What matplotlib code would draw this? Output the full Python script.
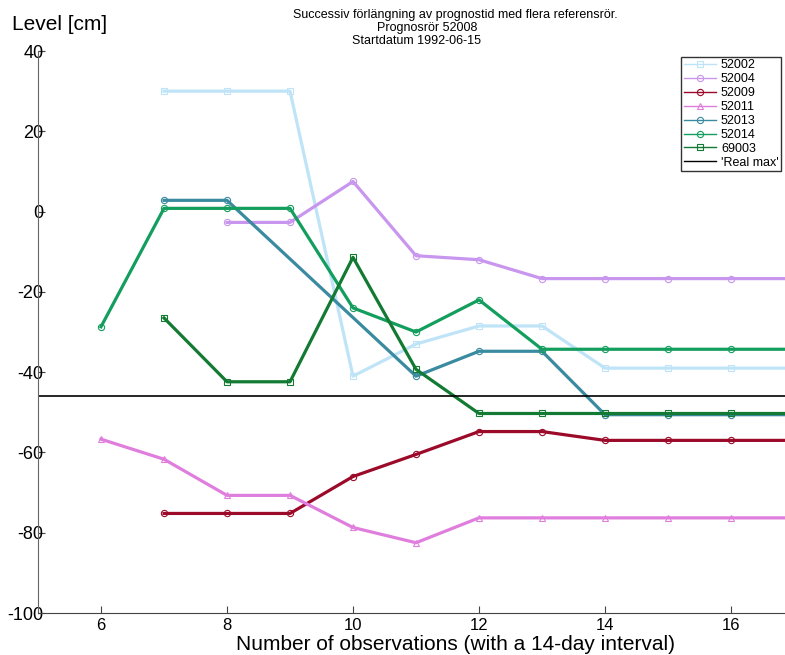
import numpy as np
import matplotlib
matplotlib.use("Agg")
import matplotlib.pyplot as plt

plt.rcParams["font.family"] = ["Liberation Sans", "DejaVu Sans"]
plt.rcParams["axes.unicode_minus"] = False

# Values (x = number of observations)
x_52002 = [7, 8, 9, 10, 11, 12, 13, 14, 15, 16, 17]
y_52002 = [30, 30, 30, -41, -33, -28.5, -28.5, -39, -39, -39, -39]

x_52004 = [8, 9, 10, 11, 12, 13, 14, 15, 16, 17]
y_52004 = [-2.7, -2.7, 7.5, -11, -12, -16.7, -16.7, -16.7, -16.7, -16.7]

x_52009 = [7, 8, 9, 10, 11, 12, 13, 14, 15, 16, 17]
y_52009 = [-75.2, -75.2, -75.2, -66, -60.5, -54.8, -54.8, -57, -57, -57, -57]

x_52011 = [6, 7, 8, 9, 10, 11, 12, 13, 14, 15, 16, 17]
y_52011 = [-56.7, -61.7, -70.7, -70.7, -78.7, -82.5, -76.3, -76.3, -76.3,
           -76.3, -76.3, -76.3]

x_52013 = [7, 8, 11, 12, 13, 14, 15, 16, 17]
y_52013 = [2.8, 2.8, -41, -34.8, -34.8, -50.6, -50.6, -50.6, -50.6]

x_52014 = [6, 7, 8, 9, 10, 11, 12, 13, 14, 15, 16, 17]
y_52014 = [-28.7, 0.8, 0.8, 0.8, -24, -30, -22, -34.3, -34.3, -34.3, -34.3,
           -34.3]

x_69003 = [7, 8, 9, 10, 11, 12, 13, 14, 15, 16, 17]
y_69003 = [-26.5, -42.4, -42.4, -11.4, -39.3, -50.3, -50.3, -50.3, -50.3,
           -50.3, -50.3]

real_max = -46

series = [
    ("52002", x_52002, y_52002, "#bfe4f8", "s"),
    ("52004", x_52004, y_52004, "#c896ee", "o"),
    ("52009", x_52009, y_52009, "#9c0a2a", "o"),
    ("52011", x_52011, y_52011, "#e07ede", "^"),
    ("52013", x_52013, y_52013, "#3a8aa0", "o"),
    ("52014", x_52014, y_52014, "#139e5e", "o"),
    ("69003", x_69003, y_69003, "#127a32", "s"),
]

fig = plt.figure(figsize=(7.85, 6.55), dpi=100)
ax = fig.add_axes([38 / 785, 42 / 655, 756 / 785, 562 / 655])

for name, xs, ys, col, mk in series:
    ax.plot(xs, ys, color=col, lw=2.3, marker=mk, ms=4.5, mfc="none",
            mec=col, mew=0.8, label=name)
ax.axhline(real_max, color="black", lw=1.2, label="'Real max'")

ax.set_xlim(5, 17)
ax.set_ylim(-100, 40)
ax.set_xticks([6, 8, 10, 12, 14, 16])
ax.set_yticks([40, 20, 0, -20, -40, -60, -80, -100])
for s in ["top", "right"]:
    ax.spines[s].set_visible(False)
ax.spines["left"].set_color("#666666")
ax.spines["bottom"].set_color("#444444")
ax.tick_params(axis="y", direction="in", length=5, pad=-4, labelsize=13,
               color="#444444")
ax.tick_params(axis="x", direction="in", length=5, pad=3.5, labelsize=12,
               color="#444444")
ax.set_xlabel("Number of observations (with a 14-day interval)", fontsize=15,
              va="center")
ax.xaxis.set_label_coords((455 - 38) / 756, -31 / 562)

fig.text(12 / 785, 1 - 25 / 655, "Level [cm]", fontsize=15, va="center",
         ha="left")

fig.text(455 / 785, 1 - 15 / 655,
         "Successiv förlängning av prognostid med flera referensrör.",
         fontsize=9, ha="center", va="center")
fig.text(427 / 785, 1 - 28 / 655, "Prognosrör 52008", fontsize=9,
         ha="center", va="center")
fig.text(416 / 785, 1 - 41 / 655, "Startdatum 1992-06-15", fontsize=9,
         ha="center", va="center")

leg = ax.legend(loc="upper left", bbox_to_anchor=(643 / 756, 1 - 6 / 562),
                fontsize=9, frameon=True, fancybox=False, edgecolor="black",
                borderpad=0.2, labelspacing=0.15, handlelength=2.6,
                handletextpad=0.4, borderaxespad=0)
leg.get_frame().set_linewidth(1.0)
for h in leg.get_lines():
    h.set_linewidth(1.0)

fig.savefig("out.png", dpi=100)
